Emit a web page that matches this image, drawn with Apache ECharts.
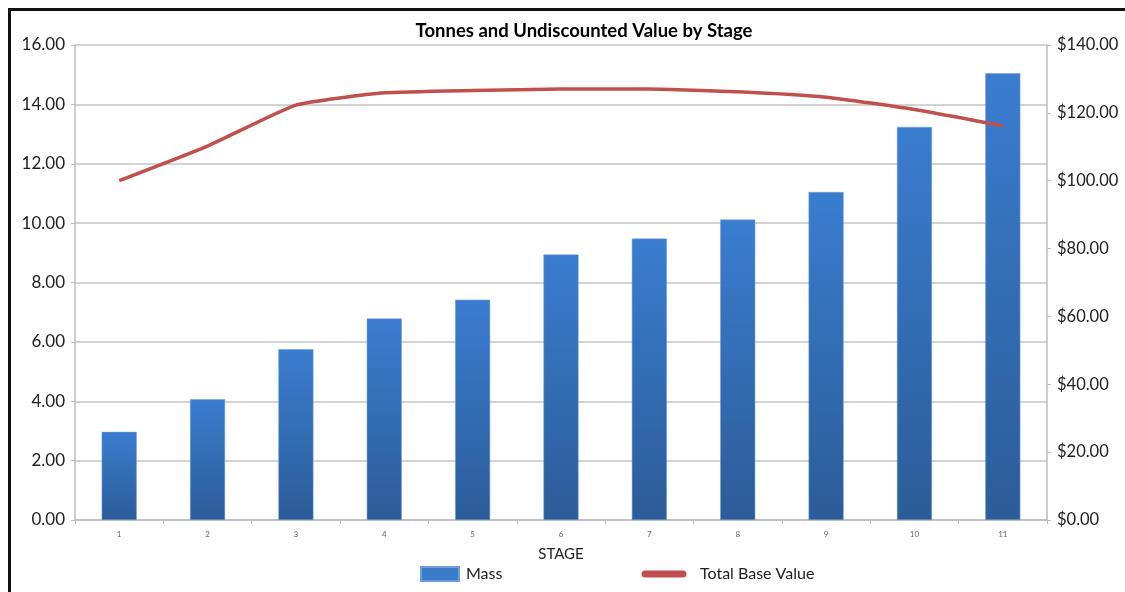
<!DOCTYPE html>
<html>
<head>
<meta charset="utf-8">
<script src="https://cdn.jsdelivr.net/npm/echarts@6/dist/echarts.min.js"></script>
<style>
  html, body { margin: 0; padding: 0; background: #fff; }
  #frame { position: absolute; left: 8px; top: 8px; width: 1117px; height: 584px;
           border-left: 3px solid #111; border-top: 3px solid #111; box-sizing: border-box; }
  #chart { position: absolute; left: 0; top: 0; width: 1125px; height: 592px; }
</style>
</head>
<body>
<div id="frame"></div>
<div id="chart"></div>
<script>
// Stage numbers along the x axis
const stages = ['1', '2', '3', '4', '5', '6', '7', '8', '9', '10', '11'];
// Tonnes mined per stage (left axis)
const mass = [2.97, 4.07, 5.75, 6.79, 7.42, 8.94, 9.48, 10.12, 11.05, 13.24, 15.05];
// Undiscounted total base value per stage (right axis, $)
const totalBaseValue = [100.0, 110.2, 122.3, 125.9, 126.6, 127.0, 127.0, 126.2, 124.6, 121.0, 116.2];

const FONT = 'Lato, "Open Sans", sans-serif';
const chart = echarts.init(document.getElementById('chart'), null, { renderer: 'canvas' });

chart.setOption({
  animation: false,
  title: {
    text: 'Tonnes and Undiscounted Value by Stage',
    left: 579, top: 17, textAlign: 'center',
    textStyle: { fontFamily: FONT, fontWeight: 'bold', fontSize: 18.5, color: '#000' }
  },
  legend: [
    {
      top: 561, left: 415,
      itemWidth: 38, itemHeight: 14,
      textStyle: { fontFamily: FONT, fontSize: 16, color: '#222', padding: [0, 0, 0, 2] },
      data: [{ name: 'Mass', icon: 'rect', itemStyle: { color: '#3a7bcc' } }]
    },
    {
      top: 561, left: 636,
      itemWidth: 46, itemHeight: 14,
      textStyle: { fontFamily: FONT, fontSize: 16, color: '#222', padding: [0, 0, 0, 8] },
      data: [{
        name: 'Total Base Value',
        icon: 'path://M4,3.5 L42,3.5 A3.5,3.5 0 0 1 42,10.5 L4,10.5 A3.5,3.5 0 0 1 4,3.5 Z M0,0 L0,0.01 M46,14 L46,13.99',
        itemStyle: { color: '#c0504d' }
      }]
    }
  ],
  grid: { left: 75, right: 78, top: 45, bottom: 72, containLabel: false },
  xAxis: {
    type: 'category',
    data: stages,
    name: 'STAGE', nameLocation: 'middle', nameGap: 27,
    nameTextStyle: { fontFamily: FONT, fontSize: 15, color: '#222' },
    axisLine: { lineStyle: { color: '#bdbdbd', width: 1.5 } },
    axisTick: { show: true, alignWithLabel: false, length: 4, lineStyle: { color: '#bdbdbd' } },
    axisLabel: { fontFamily: FONT, fontSize: 8, color: '#666', margin: 10 }
  },
  yAxis: [
    {
      type: 'value', min: 0, max: 16, interval: 2, position: 'left',
      axisLine: { show: true, lineStyle: { color: '#bdbdbd', width: 1.5 } },
      axisTick: { show: true, length: 4, lineStyle: { color: '#bdbdbd' } },
      axisLabel: { fontFamily: FONT, fontSize: 17, color: '#222', margin: 10,
                   formatter: v => v.toFixed(2) },
      splitLine: { lineStyle: { color: '#c4c4c4', width: 1.5 } }
    },
    {
      type: 'value', min: 0, max: 140, interval: 20, position: 'right',
      axisLine: { show: true, lineStyle: { color: '#bdbdbd', width: 1.5 } },
      axisTick: { show: true, length: 4, lineStyle: { color: '#bdbdbd' } },
      axisLabel: { fontFamily: FONT, fontSize: 16.5, color: '#222', margin: 10,
                   formatter: v => '$' + v.toFixed(2) },
      splitLine: { show: false }
    }
  ],
  series: [
    {
      name: 'Mass', type: 'bar', yAxisIndex: 0, data: mass, barWidth: 35,
      itemStyle: {
        color: new echarts.graphic.LinearGradient(0, 0, 0, 1, [
          { offset: 0, color: '#3a7dcf' },
          { offset: 1, color: '#2c5c98' }
        ]),
        borderColor: '#6f9fd8', borderWidth: 0.5
      }
    },
    {
      name: 'Total Base Value', type: 'line', yAxisIndex: 1, data: totalBaseValue,
      symbol: 'none', smooth: 0.15,
      lineStyle: { color: '#c0504d', width: 3.5 },
      itemStyle: { color: '#c0504d' }
    }
  ]
});
</script>
</body>
</html>
